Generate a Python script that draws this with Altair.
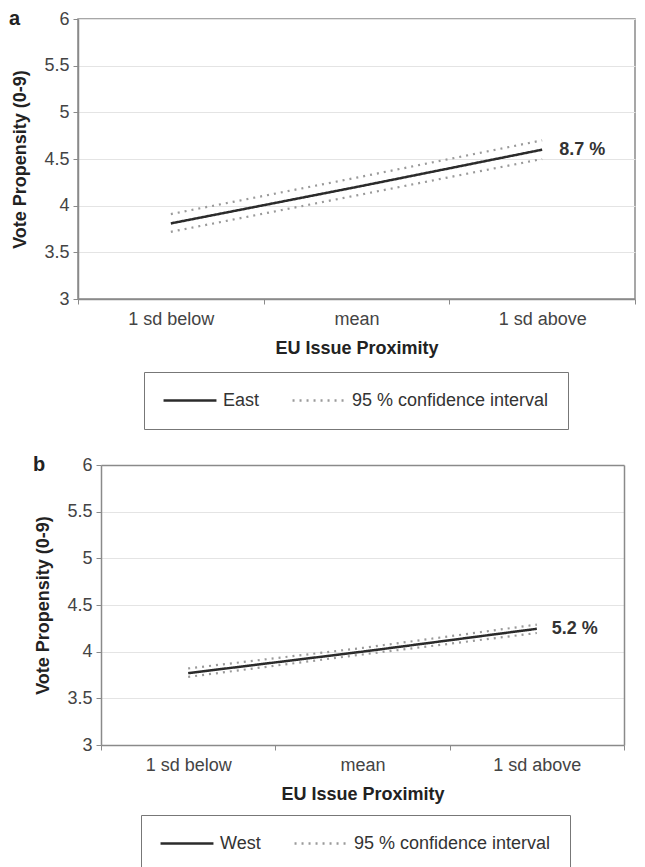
import altair as alt
import pandas as pd

positions = ["1 sd below", "mean", "1 sd above"]
east_estimate = [3.81, 4.20, 4.60]
east_upper = [3.91, 4.30, 4.70]
east_lower = [3.72, 4.11, 4.50]
west_estimate = [3.77, 4.00, 4.245]
west_upper = [3.82, 4.04, 4.29]
west_lower = [3.73, 3.97, 4.20]
group_names = ["East", "West"]
panel_letters = ["a", "b"]
effect_labels = ["8.7 %", "5.2 %"]
ci_name = "95 % confidence interval"
y_ticks = [3, 3.5, 4, 4.5, 5, 5.5, 6]

FONT = "Liberation Sans"
FRAME = "#8a8a8a"
GRID = "#e4e4e4"


def panel(letter, name, est, up, lo, label, width, x_start, legend_x, legend_y,
          legend_pad, letter_x, label_dx, own_frame):
    est_rows = [{"pos": p, "val": e, "series": name, "line": "est"}
                for p, e in zip(positions, est)]
    ci_rows = []
    for p, u, l in zip(positions, up, lo):
        ci_rows.append({"pos": p, "val": u, "series": ci_name, "line": "upper"})
        ci_rows.append({"pos": p, "val": l, "series": ci_name, "line": "lower"})
    est_df = pd.DataFrame(est_rows)
    ci_df = pd.DataFrame(ci_rows)

    x_axis_kw = dict(
        title="EU Issue Proximity",
        labelAngle=0,
        tickBand="extent",
        labelPadding=6,
        titlePadding=11,
        grid=False,
    )
    y_axis_kw = dict(
        values=y_ticks,
        format="~g",
        title="Vote Propensity (0-9)",
        grid=True,
        labelPadding=4,
        titlePadding=14,
    )
    if own_frame:
        # top edge of the frame = darker grid line at 6
        y_axis_kw.update(
            offset=-x_start,
            gridColor=alt.condition("datum.value == 6", alt.value(FRAME), alt.value(GRID)),
            gridWidth=alt.condition("datum.value == 6", alt.value(1.5), alt.value(1)),
        )
        x_scale = alt.Scale(domain=positions, paddingInner=0, paddingOuter=0,
                            range=[x_start, width])
    else:
        x_scale = alt.Scale(domain=positions, paddingInner=0, paddingOuter=0)

    x = alt.X("pos:N", sort=positions, scale=x_scale, axis=alt.Axis(**x_axis_kw))
    y = alt.Y("val:Q", scale=alt.Scale(domain=[3, 6], nice=False, zero=False),
              axis=alt.Axis(**y_axis_kw))

    leg = alt.Legend(
        title=None,
        orient="none",
        legendX=legend_x,
        legendY=legend_y,
        direction="horizontal",
        columns=2,
        symbolType="M-5,0H5",
        symbolSize=112,
        symbolOffset=17.5,
        symbolStrokeWidth=2.5,
        labelFont=FONT,
        labelFontSize=18,
        labelColor="#333333",
        labelOffset=24,
        labelLimit=400,
        columnPadding=28,
        padding=legend_pad,
        strokeColor="#777777",
        fillColor="white",
    )
    color = alt.Color(
        "series:N",
        scale=alt.Scale(domain=[name, ci_name], range=["#2b2b2b", "#9a9a9a"]),
        legend=leg,
    )
    dash = alt.StrokeDash(
        "series:N",
        scale=alt.Scale(domain=[name, ci_name], range=[[1, 0], [2, 5]]),
        legend=leg,
    )
    ci_lines = alt.Chart(ci_df).mark_line(strokeWidth=2.2).encode(
        x=x, y=y, color=color, strokeDash=dash, detail="line:N"
    )
    est_line = alt.Chart(est_df).mark_line(strokeWidth=2.5).encode(
        x=x, y=y, color=color, strokeDash=dash, detail="line:N"
    )
    lines = alt.layer(ci_lines, est_line)

    lab_df = pd.DataFrame({"pos": [positions[-1]], "val": [est[-1]], "text": [label]})
    if own_frame:
        # right edge of the frame = a bare right-hand y axis
        text_y = alt.Y("val:Q", axis=alt.Axis(orient="right", labels=False, ticks=False,
                                              grid=False, title=None))
    else:
        text_y = alt.Y("val:Q")
    text = alt.Chart(lab_df).mark_text(
        align="left", baseline="middle", dx=label_dx, fontSize=18, fontWeight="bold",
        font=FONT, color="#333333",
    ).encode(x=alt.X("pos:N", sort=positions), y=text_y, text="text:N")

    let_df = pd.DataFrame({"t": [letter]})
    letter_mark = alt.Chart(let_df).mark_text(
        align="left", baseline="middle", fontSize=20, fontWeight="bold",
        font=FONT, color="#222222",
    ).encode(text="t:N", x=alt.value(letter_x), y=alt.value(0))
    out = alt.layer(lines, text, letter_mark).properties(width=width, height=280)
    if own_frame:
        out = out.resolve_axis(y="independent").properties(
            view=alt.ViewBackground(stroke="transparent")
        )
    return out


pa = panel(panel_letters[0], group_names[0], east_estimate, east_upper, east_lower,
           effect_labels[0], 557, 0, 66, 353, 19.5, -69, 17, False)
pb = panel(panel_letters[1], group_names[1], west_estimate, west_upper, west_lower,
           effect_labels[1], 546, 23, 63, 350, 19.5, -45, 15, True)

chart = (
    alt.vconcat(pa, pb, spacing=23)
    .resolve_scale(color="independent", strokeDash="independent")
    .properties(padding=0)
    .configure_view(stroke=FRAME, strokeWidth=1.5)
    .configure_axis(
        labelFont=FONT,
        labelFontSize=18,
        labelColor="#444444",
        titleFont=FONT,
        titleFontSize=18,
        titleFontWeight="bold",
        titleColor="#222222",
        domainColor=FRAME,
        domainWidth=1.5,
        tickColor=FRAME,
        tickSize=5,
        gridColor=GRID,
        gridWidth=1,
    )
)

chart.save("out.html", embed_options={"renderer": "svg", "actions": False})
